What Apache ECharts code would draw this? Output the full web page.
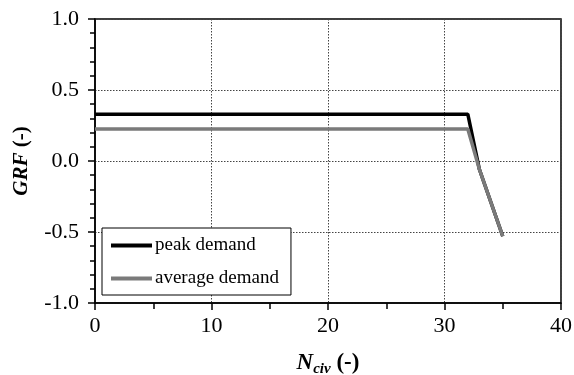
<!DOCTYPE html>
<html>
<head>
<meta charset="utf-8">
<script src="https://cdn.jsdelivr.net/npm/echarts@6/dist/echarts.min.js"></script>
<style>
  html, body { margin: 0; padding: 0; background: #fff; }
  #chart { width: 574px; height: 375px; }
</style>
</head>
<body>
<div id="chart"></div>
<script>
// Number of civilians vs. GRF
const nCiv = [0, 32, 33, 35];
const peakDemand = [0.33, 0.33, -0.06, -0.53];
const averageDemand = [0.225, 0.225, -0.06, -0.53];
const xTicks = [0, 10, 20, 30, 40];
const yTicks = [-1.0, -0.5, 0.0, 0.5, 1.0];

const FONT = '"Liberation Serif", "Times New Roman", serif';

function pairs(xs, ys) {
  return xs.map((x, i) => [x, ys[i]]);
}

const chart = echarts.init(document.getElementById('chart'));
chart.setOption({
  animation: false,
  backgroundColor: '#fff',
  grid: {
    left: 95, right: 13, top: 19, bottom: 72,
    outerBoundsMode: 'none',
    show: true, borderColor: '#000', borderWidth: 1.5, backgroundColor: 'transparent'
  },
  legend: {
    left: 102, top: 228,
    orient: 'vertical',
    backgroundColor: '#fff',
    borderColor: '#000', borderWidth: 1,
    padding: [8, 12, 7, 9],
    itemGap: 14,
    itemWidth: 41, itemHeight: 4,
    icon: 'rect',
    textStyle: { fontFamily: FONT, fontSize: 19, color: '#000', padding: [0, 0, 0, -2] },
    data: ['peak demand', 'average demand']
  },
  xAxis: {
    type: 'value',
    min: xTicks[0], max: xTicks[xTicks.length - 1], interval: 10,
    name: '{i|N}{s|civ}{b| (-)}',
    nameLocation: 'middle',
    nameGap: 47,
    nameTextStyle: {
      rich: {
        i: { fontFamily: FONT, fontSize: 23, fontStyle: 'italic', fontWeight: 'bold', color: '#000' },
        s: { fontFamily: FONT, fontSize: 15, fontStyle: 'italic', fontWeight: 'bold', color: '#000', verticalAlign: 'bottom', padding: [12, 0, 0, 0] },
        b: { fontFamily: FONT, fontSize: 23, fontWeight: 'bold', color: '#000' }
      }
    },
    axisLine: { onZero: false, lineStyle: { color: '#000', width: 1.5 } },
    axisTick: { inside: false, length: 7, lineStyle: { color: '#000', width: 1.5 } },
    minorTick: { show: true, splitNumber: 2, length: 6, lineStyle: { color: '#000', width: 1.5 } },
    axisLabel: { fontFamily: FONT, fontSize: 22, color: '#000', margin: 12 },
    splitLine: { show: true, lineStyle: { color: '#444', type: [1.5, 1.5], width: 1 } }
  },
  yAxis: {
    type: 'value',
    min: yTicks[0], max: yTicks[yTicks.length - 1], interval: 0.5,
    name: '{i|GRF}{b| (-)}',
    nameLocation: 'middle',
    nameGap: 63,
    nameRotate: 90,
    nameTextStyle: {
      rich: {
        i: { fontFamily: FONT, fontSize: 21, fontStyle: 'italic', fontWeight: 'bold', color: '#000' },
        b: { fontFamily: FONT, fontSize: 21, fontWeight: 'bold', color: '#000' }
      }
    },
    axisLine: { onZero: false, lineStyle: { color: '#000', width: 1.5 } },
    axisTick: { inside: false, length: 7, lineStyle: { color: '#000', width: 1.5 } },
    minorTick: { show: true, splitNumber: 5, length: 5, lineStyle: { color: '#000', width: 1.5 } },
    axisLabel: {
      fontFamily: FONT, fontSize: 22, color: '#000', margin: 16,
      formatter: v => v.toFixed(1)
    },
    splitLine: { show: true, lineStyle: { color: '#444', type: [1.5, 1.5], width: 1 } }
  },
  series: [
    {
      name: 'average demand',
      type: 'line',
      data: pairs(nCiv, averageDemand),
      showSymbol: false,
      color: '#7a7a7a',
      lineStyle: { color: '#7a7a7a', width: 3.5 },
      z: 3
    },
    {
      name: 'peak demand',
      type: 'line',
      data: pairs(nCiv, peakDemand),
      showSymbol: false,
      color: '#000',
      lineStyle: { color: '#000', width: 3.5 },
      z: 2
    }
  ]
});
</script>
</body>
</html>
